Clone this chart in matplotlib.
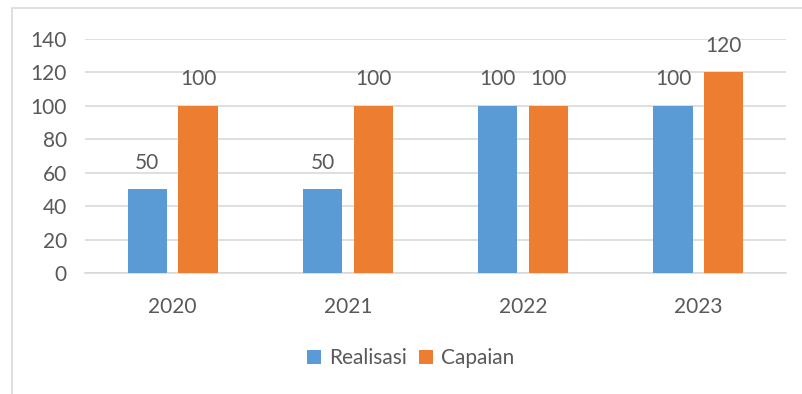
import matplotlib.pyplot as plt
import numpy as np
from matplotlib.patches import Rectangle

years = ["2020", "2021", "2022", "2023"]
realisasi = [50, 50, 100, 100]
capaian = [100, 100, 100, 120]
y_ticks = [0, 20, 40, 60, 80, 100, 120, 140]

BLUE = "#5B9BD5"
ORANGE = "#ED7D31"
TEXT = "#595959"
GRID = "#D9D9D9"
FS = 15

plt.rcParams["font.family"] = ["Lato", "DejaVu Sans"]

fig = plt.figure(figsize=(8.03, 3.94), dpi=100)
# chart frame, cut off at the right and bottom
fig.add_artist(Rectangle((12 / 803, -0.1), 1.0, 1.1 - 8 / 394, transform=fig.transFigure,
                         fill=False, edgecolor=GRID, linewidth=1.2))

ax = fig.add_axes([85 / 803, 1 - 273 / 394, 701 / 803, 234 / 394])
x = np.arange(len(years))
width = 0.223
offset = 0.145

b1 = ax.bar(x - offset, realisasi, width, color=BLUE, label="Realisasi", zorder=3)
b2 = ax.bar(x + offset, capaian, width, color=ORANGE, label="Capaian", zorder=3)
for bars in (b1, b2):
    ax.bar_label(bars, padding=12, fontsize=FS, color=TEXT)

ax.set_xlim(-0.5, len(years) - 0.5)
ax.set_ylim(0, 140)
ax.set_yticks(y_ticks)
ax.set_xticks(x)
ax.set_xticklabels(years)
ax.tick_params(axis="both", length=0, labelsize=FS, labelcolor=TEXT)
ax.tick_params(axis="y", pad=13)
ax.tick_params(axis="x", pad=17)
ax.grid(axis="y", color=GRID, linewidth=1.2, zorder=0)
for side in ("top", "right", "left"):
    ax.spines[side].set_visible(False)
ax.spines["bottom"].set_color(GRID)
ax.spines["bottom"].set_linewidth(1.2)

fig.legend(handles=[b1, b2], loc="center", bbox_to_anchor=(411 / 803, 1 - 358 / 394),
           ncol=2, frameon=False, fontsize=FS, labelcolor=TEXT, handlelength=0.65,
           handleheight=0.65, handletextpad=0.4, columnspacing=0.6)

fig.savefig("out.png", dpi=100)
